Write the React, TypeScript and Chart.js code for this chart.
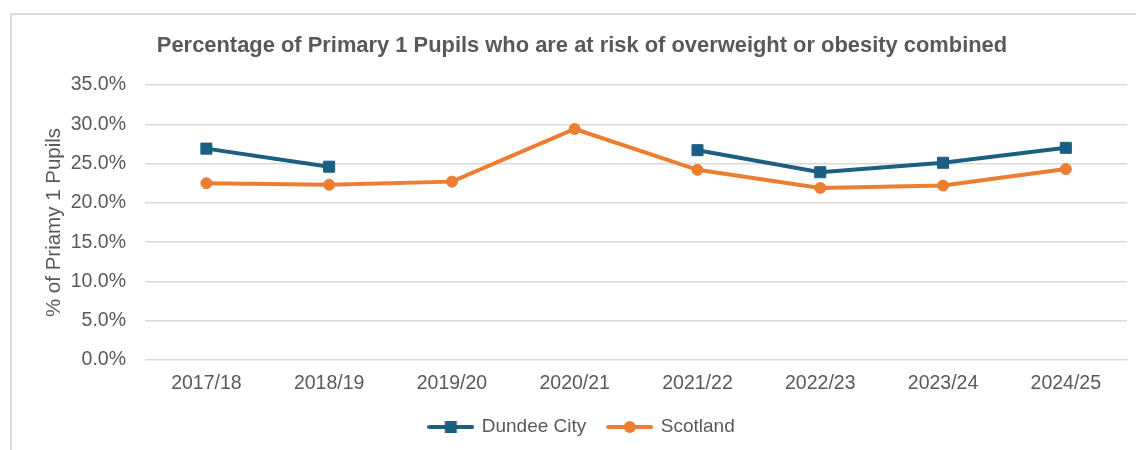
import React, { useEffect, useRef } from 'react';
import { Chart, registerables } from 'chart.js';

Chart.register(...registerables);

const categories = ['2017/18', '2018/19', '2019/20', '2020/21', '2021/22', '2022/23', '2023/24', '2024/25'];
const dundeeCity = [26.9, 24.6, null, null, 26.7, 23.9, 25.1, 27.0];
const scotland = [22.5, 22.3, 22.7, 29.4, 24.2, 21.9, 22.2, 24.3];
const seriesNames = ['Dundee City', 'Scotland'];
const titleText = 'Percentage of Primary 1 Pupils who are at risk of overweight or obesity combined';
const yAxisTitle = '% of Priamy 1 Pupils';

const BLUE = '#1b5f82';
const ORANGE = '#ed7d31';
const TEXT = '#595959';
const GRID = '#d9d9d9';
const FONT = "'Liberation Sans', Arial, sans-serif";

function makeLegendIcon(color: string, shape: 'rect' | 'circle'): HTMLCanvasElement {
  const c = document.createElement('canvas');
  c.width = 47;
  c.height = 14;
  const ctx = c.getContext('2d')!;
  ctx.strokeStyle = color;
  ctx.lineWidth = 4;
  ctx.lineCap = 'round';
  ctx.beginPath();
  ctx.moveTo(2, 7);
  ctx.lineTo(45, 7);
  ctx.stroke();
  ctx.fillStyle = color;
  if (shape === 'rect') {
    ctx.fillRect(23.5 - 6, 1, 12, 12);
  } else {
    ctx.beginPath();
    ctx.arc(23.5, 7, 6, 0, Math.PI * 2);
    ctx.fill();
  }
  return c;
}

export default function App() {
  const ref = useRef<HTMLCanvasElement>(null);

  useEffect(() => {
    Chart.defaults.font.family = FONT;
    const icons = [makeLegendIcon(BLUE, 'rect'), makeLegendIcon(ORANGE, 'circle')];
    const chart = new Chart(ref.current!, {
      type: 'line',
      data: {
        labels: categories,
        datasets: [
          {
            label: seriesNames[0],
            data: dundeeCity,
            borderColor: BLUE,
            backgroundColor: BLUE,
            borderWidth: 4,
            pointStyle: 'rect',
            pointRadius: 7.8,
            pointBorderWidth: 1,
            pointBackgroundColor: BLUE,
            pointBorderColor: BLUE,
            spanGaps: false,
            tension: 0,
          },
          {
            label: seriesNames[1],
            data: scotland,
            borderColor: ORANGE,
            backgroundColor: ORANGE,
            borderWidth: 4,
            pointStyle: 'circle',
            pointRadius: 5.5,
            pointBorderWidth: 1,
            pointBackgroundColor: ORANGE,
            pointBorderColor: ORANGE,
            tension: 0,
          },
        ],
      },
      options: {
        animation: false,
        responsive: false,
        devicePixelRatio: 1,
        layout: { padding: { left: 36, right: 8, top: 0, bottom: 3.5 } },
        scales: {
          x: {
            offset: true,
            grid: { display: false, drawTicks: false },
            border: { display: false },
            ticks: {
              color: TEXT,
              font: { size: 19.5 },
              padding: 12,
              maxRotation: 0,
              autoSkip: false,
            },
            afterFit: (s: any) => {
              s.height = 35.5;
            },
          },
          y: {
            min: 0,
            max: 35,
            border: { display: false },
            grid: { color: GRID, lineWidth: 1.5, drawTicks: false },
            ticks: {
              stepSize: 5,
              color: TEXT,
              font: { size: 19.5 },
              padding: 19,
              callback: (v: any) => Number(v).toFixed(1) + '%',
            },
            title: {
              display: true,
              text: yAxisTitle,
              color: TEXT,
              font: { size: 20.5 },
              padding: { top: 5.7, bottom: 0 },
            },
            afterFit: (s: any) => {
              s.width = 109;
            },
          },
        },
        plugins: {
          title: {
            display: true,
            text: titleText,
            color: TEXT,
            font: { size: 21.9, weight: 'bold' },
            padding: { top: 33, bottom: 25.7 },
          },
          legend: {
            position: 'bottom',
            labels: {
              usePointStyle: true,
              pointStyleWidth: 43,
              color: TEXT,
              font: { size: 19 },
              padding: 22,
              generateLabels: (ch: any) =>
                ch.data.datasets.map((ds: any, i: number) => ({
                  text: ds.label,
                  fillStyle: ds.borderColor,
                  strokeStyle: ds.borderColor,
                  lineWidth: 0,
                  pointStyle: icons[i],
                  hidden: false,
                  datasetIndex: i,
                  fontColor: TEXT,
                })),
            },
          },
          tooltip: { enabled: false },
        },
      } as any,
    });
    return () => chart.destroy();
  }, []);

  return (
    <div
      style={{
        position: 'fixed',
        left: 0,
        top: 0,
        width: 1136,
        height: 450,
        overflow: 'hidden',
        background: '#fff',
      }}
    >
      <div
        style={{
          position: 'absolute',
          left: 10,
          top: 13,
          width: 1200,
          height: 500,
          border: `2px solid ${GRID}`,
          boxSizing: 'border-box',
        }}
      />
      <canvas
        ref={ref}
        width={1136}
        height={450}
        style={{ position: 'absolute', left: 0, top: 0, width: 1136, height: 450 }}
      />
    </div>
  );
}
